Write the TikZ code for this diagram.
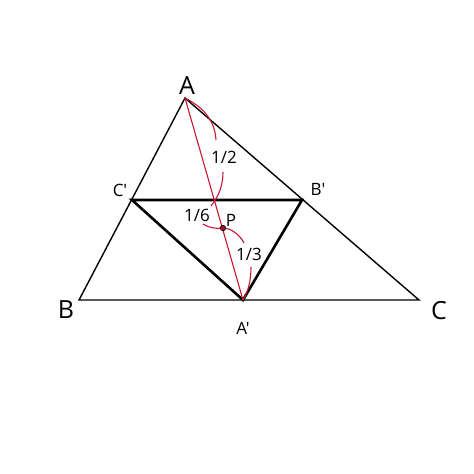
\documentclass[tikz,border=0pt]{standalone}
\usepackage{fontspec}
\setmainfont{Open Sans}[Ligatures=TeXOff]
\definecolor{brace}{RGB}{200,22,48}
\begin{document}
\begin{tikzpicture}[x=1pt,y=-1pt,
  big/.style={font=\fontsize{25}{25}\selectfont},
  small/.style={font=\fontsize{17}{17}\selectfont},
  redline/.style={brace,line width=1.1pt}]
\tikzstyle{every node}+=[inner sep=0pt]
\useasboundingbox (0,0) rectangle (474,474);
\coordinate (A) at (185,98);
\coordinate (B) at (79,300);
\coordinate (C) at (419,300);
\coordinate (Ap) at (243,300);
\coordinate (Bp) at (302,200);
\coordinate (Cp) at (132,200);
\coordinate (P) at (223,228);
\draw [black,line width=1.4pt] (A) -- (B) -- (C) -- cycle;
\draw [black,line width=2.6pt,line join=miter] (Cp) -- (Bp) -- (Ap) -- cycle;
\draw [redline] (A) -- (Ap);
\draw [redline] (A) .. controls (205,108) and (215,122) .. (216,140);
\draw [redline] (223,172) .. controls (223,185) and (219,196) .. (211,206);
\draw [redline] (203,224) .. controls (210,228) and (216,229) .. (P)
  .. controls (231,228) and (240,235) .. (244,243);
\draw [redline] (251,267) .. controls (251,281) and (248,292) .. (Ap);
\node [circle,draw=black,fill=brace!80!black,line width=0.6pt,minimum size=5.5pt] (dot) at (P) {};
\node [big] (lA) at (187,86) {A};
\node [big] (lB) at (66,310) {B};
\node [big] (lC) at (439,311) {C};
\node [small] (lAp) at (243,328) {A'};
\node [small] (lBp) at (318,189) {B'};
\node [small] (lCp) at (120,190) {C'};
\node [small] (lP) at (231,220) {P};
\node [small] (half) at (224,157) {1/2};
\node [small] (sixth) at (197,215) {1/6};
\node [small] (third) at (249,254) {1/3};
\end{tikzpicture}
\end{document}
